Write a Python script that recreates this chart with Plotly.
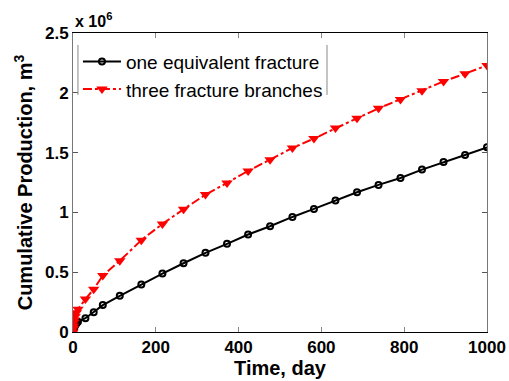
import plotly.graph_objects as go

# Data (production in units of 1e6 m^3)
time_day = [0, 0.5, 1, 2, 3, 5, 8, 12, 30, 50, 72, 113, 165, 216, 267, 320, 372, 423,
            476, 530, 582, 634, 686, 738, 791, 843, 895, 947, 1000]
one_equivalent = [0, 0.01, 0.02, 0.03, 0.04, 0.055, 0.07, 0.085, 0.115, 0.166, 0.225, 0.303,
                  0.398, 0.489, 0.575, 0.662, 0.737, 0.815, 0.884, 0.962, 1.029, 1.099,
                  1.168, 1.230, 1.288, 1.358, 1.422, 1.480, 1.544]
three_branches = [0, 0.03, 0.05, 0.08, 0.10, 0.13, 0.16, 0.19, 0.275, 0.358, 0.472, 0.595,
                  0.768, 0.904, 1.026, 1.149, 1.246, 1.347, 1.441, 1.539, 1.617, 1.705,
                  1.787, 1.870, 1.945, 2.018, 2.095, 2.160, 2.229]
x_ticks = [0, 200, 400, 600, 800, 1000]
y_ticks = [0, 0.5, 1, 1.5, 2, 2.5]
y_tick_text = ["0", "0.5", "1", "1.5", "2", "2.5"]

FONT = "Liberation Sans, Arial, sans-serif"

fig = go.Figure()
fig.add_trace(go.Scatter(
    x=time_day, y=one_equivalent, mode="lines+markers", name="one equivalent fracture",
    line=dict(color="black", width=2),
    marker=dict(symbol="circle-open", size=6, color="black", line=dict(width=2)),
))
fig.add_trace(go.Scatter(
    x=time_day, y=three_branches, mode="lines+markers", name="three fracture branches",
    line=dict(color="#ff0000", width=2, dash="dashdot"),
    marker=dict(symbol="triangle-down", size=10, color="#ff0000"),
))

fig.update_layout(
    width=509, height=381,
    margin=dict(l=73, r=22, t=33, b=49),
    paper_bgcolor="white", plot_bgcolor="white",
    font=dict(family=FONT, color="black"),
    showlegend=True,
    legend=dict(x=0.012, y=0.968, xanchor="left", yanchor="top",
                bgcolor="rgba(255,255,255,0)", borderwidth=0,
                font=dict(family=FONT, size=19, color="black"),
                itemwidth=38, tracegroupgap=0),
    xaxis=dict(range=[0, 1000], tickvals=x_ticks, ticks="inside", ticklen=5,
               tickcolor="#888888", showgrid=False, zeroline=False,
               showline=True, linecolor="black", linewidth=1, mirror="ticks",
               tickfont=dict(family=FONT, size=17, color="black", weight="bold"),
               title=dict(text="<b>Time, day</b>", font=dict(family=FONT, size=20),
                          standoff=2),
               automargin=False),
    yaxis=dict(range=[0, 2.5], tickvals=y_ticks, ticktext=y_tick_text, ticks="inside",
               ticklen=5, tickcolor="#555555", showgrid=False, zeroline=False,
               showline=True, linecolor="#777777", linewidth=1, mirror="ticks",
               tickfont=dict(family=FONT, size=17, color="black", weight="bold"),
               title=dict(text="<b>Cumulative Production, m<sup>3</sup></b>",
                          font=dict(family=FONT, size=20), standoff=6),
               automargin=False),
)

fig.add_annotation(xref="paper", yref="paper", x=0.0, y=1.0, xanchor="left", yanchor="bottom",
                   yshift=1, showarrow=False,
                   text="<b>x 10<sup>6</sup></b>", font=dict(family=FONT, size=16, color="black"))

# legend box side borders
for xp in (0.012, 0.6135):
    fig.add_shape(type="line", xref="paper", yref="paper", x0=xp, x1=xp, y0=0.793, y1=0.96,
                  line=dict(color="#888888", width=1))

fig.write_html("out.html", config={"displayModeBar": False},
               post_script="document.body.style.margin='0';document.body.style.padding='0';")
